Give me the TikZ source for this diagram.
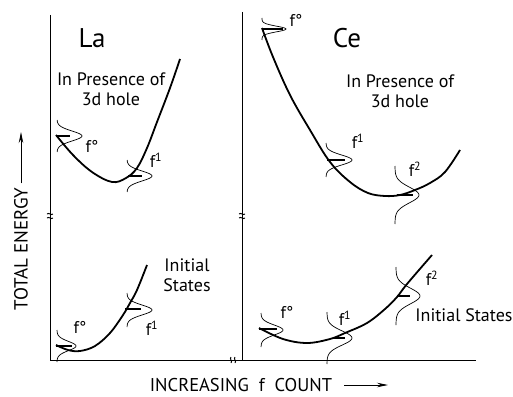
\documentclass[tikz,border=0pt]{standalone}
\usepackage{fontspec}
\setmainfont{PT Sans}
\usetikzlibrary{arrows.meta}

% sideways gaussian: base x, level y, height, width, half extent
\newcommand{\wavefn}[5]{%
  \draw[wave] plot[domain=-#5:#5,samples=41,smooth] ({#1+#3*exp(-((\x)/#4)^2)},{#2+\x});}

\begin{document}
\begin{tikzpicture}[x=1pt,y=-1pt,
  axis/.style={line width=0.8pt},
  brk/.style={line width=0.9pt},
  energy/.style={line width=1.8pt},
  level/.style={line width=1.5pt},
  wave/.style={line width=0.7pt},
  axarrow/.style={line width=0.9pt,-{Stealth[length=11pt,width=4.5pt]}},
  axlabel/.style={font=\fontsize{19}{21}\selectfont,inner sep=0pt},
  atom/.style={font=\fontsize{27}{29}\selectfont,inner sep=0pt},
  note/.style={font=\fontsize{18}{20}\selectfont,inner sep=0pt,align=center},
  occ/.style={font=\fontsize{17}{19}\selectfont,inner sep=0pt}
]
\useasboundingbox (0,0) rectangle (513,396);

% axes
\draw[axis] (50,15) |- (476,360);
\draw[axis] (242,12) -- (242,360);
\foreach \ax in {50,242}
  \foreach \dy in {-2,2}
    \draw[brk] ({\ax-3},{216+\dy}) .. controls ({\ax-1},{214+\dy}) and ({\ax+1},{218+\dy}) .. ({\ax+3},{216+\dy});
\foreach \dx in {-2,2}
  \draw[brk] ({233+\dx},357) .. controls ({231+\dx},359) and ({235+\dx},361) .. ({233+\dx},363);

\node[axlabel,rotate=90] (energy) at (21,249) {TOTAL ENERGY};
\coordinate (etip) at (21,132);
\draw[axarrow] ([yshift=4pt]energy.east) -- (etip);
\node[axlabel,font=\fontsize{18.5}{20}\selectfont] (count) at (241,385) {INCREASING\ \ f\ \ COUNT};
\coordinate (ctip) at (388,385);
\draw[axarrow] ([xshift=12pt]count.east) -- (ctip);

% La
\node[atom] (la) at (92,38) {La};
\node[note] (lahole) at (111,89) {In Presence of\\3d hole};
\node[note] (lainit) at (187,275) {Initial\\States};

\draw[energy] plot[smooth,tension=0.6] coordinates {(56,135) (73,155) (92,172) (112,182) (126,178) (137,168) (147,148) (157,122) (170,88) (180,59)};
\draw[level] (56,136) -- (70,136);
\wavefn{57}{136}{25}{7}{16}
\draw[level] (128,176) -- (142,176);
\wavefn{127}{176}{25}{7}{16}
\node[occ] (lahf0) at (92,146) {f°};
\node[occ] (lahf1) at (156,160) {f\textsuperscript{1}};

\draw[energy] plot[smooth,tension=0.6] coordinates {(56,345) (68,350) (80,351) (95,346) (110,333) (123,315) (130,303) (137,290) (147,265)};
\draw[level] (56,346) -- (72,346);
\wavefn{57}{346}{19}{6.5}{16}
\draw[level] (125,309) -- (141,309);
\wavefn{127}{310}{25}{7}{17}
\node[occ] (laif0) at (80,327) {f°};
\node[occ] (laif1) at (152,328) {f\textsuperscript{1}};

% Ce
\node[atom] (ce) at (347,38) {Ce};
\node[note] (cehole) at (400,91) {In Presence of\\3d hole};
\node[occ,font=\fontsize{18}{20}\selectfont] (ceinit) at (464,315) {Initial States};

\draw[energy] plot[smooth,tension=0.6] coordinates {(262,28) (273,57) (290,95) (310,130) (330,162) (350,182) (368,193) (385,196) (400,195) (415,190) (430,183) (445,172) (460,150)};
\draw[level] (262,29) -- (283,29);
\wavefn{262}{29}{24}{4}{11}
\draw[level] (327,160) -- (345,160);
\wavefn{326}{160}{26}{7}{17}
\draw[level] (397,195) -- (413,195);
\wavefn{395}{195}{24}{11}{29}
\node[occ] (cehf0) at (296,20) {f°};
\node[occ] (cehf1) at (358,141) {f\textsuperscript{1}};
\node[occ] (cehf2) at (415,169) {f\textsuperscript{2}};

\draw[energy] plot[smooth,tension=0.6] coordinates {(259,328) (283,339) (307,343) (330,339) (345,333) (367,323) (385,309) (397,297) (407,284) (432,255)};
\draw[level] (259,329) -- (277,329);
\wavefn{261}{330}{22}{7}{17}
\draw[level] (333,338) -- (345,338);
\wavefn{327}{338}{25}{10}{26}
\draw[level] (397,296) -- (410,296);
\wavefn{396}{296}{24}{11}{29}
\node[occ] (ceif0) at (287,312) {f°};
\node[occ] (ceif1) at (345,318) {f\textsuperscript{1}};
\node[occ] (ceif2) at (432,278) {f\textsuperscript{2}};
\end{tikzpicture}
\end{document}
